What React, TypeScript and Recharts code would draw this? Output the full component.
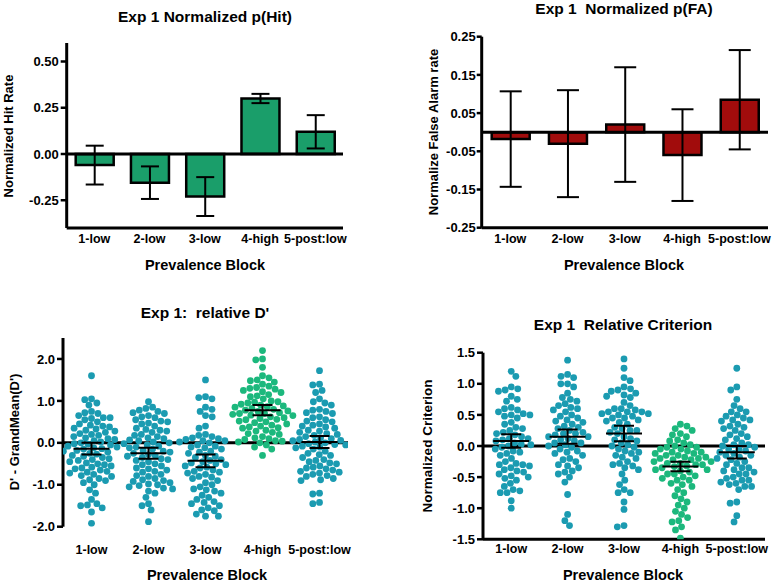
import React from "react"
import { ComposedChart, Bar, ErrorBar, XAxis, YAxis, ReferenceLine, ScatterChart, Scatter } from "recharts"

const font = "'Liberation Sans', Arial, Helvetica, sans-serif"
const teal = "#1b9bb1"
const green = "#1cb87d"
const barGreen = "#1a9e6a"
const barRed = "#a10c0c"

const blocks = ["1-low", "2-low", "3-low", "4-high", "5-post:low"]

// top panels: bar means and error half-widths
const hitMean = [-0.06, -0.155, -0.23, 0.3, 0.12]
const hitErr = [0.105, 0.088, 0.105, 0.025, 0.09]
const faMean = [-0.018, -0.03, 0.02, -0.06, 0.085]
const faErr = [0.125, 0.14, 0.15, 0.12, 0.13]

// relative D' per subject, one list per block
const dLow1 = [1.6, 1.05, 1.03, 0.95, 0.9, 0.75, 0.72, 0.7, 0.65, 0.6, 0.6, 0.58, 0.55, 0.5, 0.45, 0.42, 0.4, 0.38, 0.35, 0.33, 0.3, 0.28, 0.25, 0.22, 0.2, 0.18, 0.15, 0.12, 0.1, 0.08, 0.05, 0.02, 0.0, -0.02, -0.03, -0.05, -0.08, -0.1, -0.12, -0.14, -0.15, -0.18, -0.2, -0.22, -0.25, -0.27, -0.3, -0.32, -0.35, -0.38, -0.4, -0.42, -0.45, -0.48, -0.5, -0.52, -0.55, -0.58, -0.6, -0.62, -0.65, -0.68, -0.7, -0.72, -0.75, -0.78, -0.8, -0.85, -0.88, -0.9, -0.95, -1.0, -1.12, -1.2, -1.35, -1.45, -1.48, -1.5, -1.55, -1.65, -1.92]
const dLow2 = [0.98, 0.85, 0.82, 0.78, 0.75, 0.72, 0.7, 0.65, 0.62, 0.6, 0.55, 0.52, 0.5, 0.47, 0.45, 0.4, 0.35, 0.32, 0.3, 0.28, 0.25, 0.2, 0.18, 0.15, 0.12, 0.1, 0.07, 0.05, 0.02, 0.0, -0.02, -0.05, -0.08, -0.1, -0.12, -0.15, -0.18, -0.2, -0.22, -0.25, -0.28, -0.3, -0.32, -0.35, -0.38, -0.4, -0.42, -0.45, -0.5, -0.52, -0.55, -0.6, -0.62, -0.65, -0.68, -0.7, -0.75, -0.78, -0.8, -0.85, -0.88, -0.9, -0.92, -0.95, -0.98, -1.0, -1.02, -1.05, -1.08, -1.1, -1.15, -1.2, -1.3, -1.45, -1.5, -1.6, -1.88]
const dLow3 = [1.5, 1.1, 1.08, 1.05, 0.85, 0.8, 0.75, 0.65, 0.62, 0.4, 0.35, 0.2, 0.18, 0.15, 0.12, 0.1, 0.08, 0.05, 0.05, 0.02, 0.0, -0.05, -0.08, -0.1, -0.12, -0.15, -0.2, -0.22, -0.25, -0.3, -0.32, -0.35, -0.4, -0.42, -0.45, -0.48, -0.5, -0.52, -0.55, -0.58, -0.6, -0.65, -0.68, -0.7, -0.72, -0.75, -0.8, -0.82, -0.85, -0.9, -0.95, -1.0, -1.05, -1.1, -1.12, -1.15, -1.2, -1.25, -1.3, -1.35, -1.4, -1.42, -1.45, -1.5, -1.55, -1.6, -1.62, -1.7, -1.75, -1.75]
const dHigh4 = [2.2, 2.0, 1.98, 1.8, 1.6, 1.55, 1.5, 1.48, 1.45, 1.4, 1.35, 1.32, 1.3, 1.28, 1.25, 1.22, 1.2, 1.15, 1.12, 1.1, 1.05, 1.0, 0.98, 0.97, 0.95, 0.92, 0.9, 0.88, 0.86, 0.85, 0.82, 0.8, 0.78, 0.76, 0.75, 0.72, 0.7, 0.7, 0.68, 0.66, 0.65, 0.62, 0.6, 0.58, 0.56, 0.55, 0.52, 0.5, 0.48, 0.45, 0.42, 0.4, 0.38, 0.36, 0.35, 0.3, 0.28, 0.25, 0.22, 0.2, 0.15, 0.12, 0.1, 0.08, 0.05, 0.04, 0.02, 0.0, -0.05, -0.1, -0.15, -0.3]
const dPost5 = [1.72, 1.4, 1.38, 1.25, 1.2, 1.05, 0.98, 0.95, 0.9, 0.8, 0.78, 0.75, 0.72, 0.7, 0.62, 0.6, 0.55, 0.52, 0.5, 0.45, 0.42, 0.4, 0.38, 0.35, 0.3, 0.28, 0.25, 0.22, 0.2, 0.18, 0.15, 0.12, 0.1, 0.08, 0.06, 0.05, 0.02, 0.0, -0.02, -0.04, -0.05, -0.08, -0.1, -0.12, -0.15, -0.2, -0.25, -0.28, -0.3, -0.35, -0.4, -0.42, -0.45, -0.48, -0.5, -0.55, -0.58, -0.6, -0.62, -0.65, -0.68, -0.7, -0.72, -0.75, -0.78, -0.8, -0.85, -0.88, -0.9, -1.2, -1.22, -1.42, -1.45]
const dMean = [-0.14, -0.25, -0.43, 0.78, 0.02]
const dCI = [0.14, 0.13, 0.15, 0.12, 0.145]

// relative criterion per subject
const cLow1 = [1.2, 1.12, 0.95, 0.92, 0.9, 0.88, 0.8, 0.75, 0.72, 0.62, 0.6, 0.58, 0.55, 0.52, 0.5, 0.5, 0.48, 0.45, 0.38, 0.35, 0.3, 0.28, 0.25, 0.22, 0.2, 0.18, 0.15, 0.12, 0.12, 0.1, 0.08, 0.05, 0.03, 0.02, 0.0, -0.02, -0.05, -0.08, -0.1, -0.12, -0.15, -0.2, -0.25, -0.28, -0.3, -0.3, -0.32, -0.35, -0.38, -0.4, -0.42, -0.45, -0.48, -0.5, -0.52, -0.55, -0.6, -0.65, -0.7, -0.72, -0.75, -0.75, -0.88, -1.0]
const cLow2 = [1.38, 1.15, 1.12, 1.1, 1.0, 1.0, 0.95, 0.85, 0.78, 0.75, 0.72, 0.68, 0.65, 0.62, 0.6, 0.58, 0.55, 0.5, 0.48, 0.45, 0.42, 0.4, 0.38, 0.35, 0.32, 0.3, 0.28, 0.25, 0.22, 0.2, 0.2, 0.18, 0.15, 0.15, 0.12, 0.1, 0.08, 0.05, 0.05, 0.02, 0.0, -0.02, -0.05, -0.08, -0.1, -0.12, -0.15, -0.2, -0.22, -0.25, -0.3, -0.32, -0.35, -0.4, -0.42, -0.45, -0.5, -0.58, -0.78, -1.1, -1.2, -1.28]
const cLow3 = [1.4, 1.25, 1.1, 1.05, 0.95, 0.92, 0.9, 0.88, 0.85, 0.82, 0.8, 0.78, 0.7, 0.65, 0.6, 0.6, 0.58, 0.55, 0.55, 0.55, 0.52, 0.52, 0.5, 0.48, 0.45, 0.45, 0.42, 0.4, 0.38, 0.35, 0.3, 0.28, 0.25, 0.25, 0.22, 0.2, 0.15, 0.12, 0.1, 0.08, 0.05, 0.02, 0.0, -0.02, -0.05, -0.08, -0.1, -0.12, -0.15, -0.18, -0.2, -0.25, -0.28, -0.3, -0.32, -0.35, -0.38, -0.45, -0.55, -0.62, -0.7, -0.75, -0.75, -0.9, -1.02, -1.28, -1.3]
const cHigh4 = [0.35, 0.32, 0.28, 0.25, 0.2, 0.18, 0.15, 0.1, 0.08, 0.05, 0.02, 0.0, -0.02, -0.02, -0.05, -0.05, -0.08, -0.1, -0.1, -0.12, -0.12, -0.15, -0.15, -0.18, -0.18, -0.2, -0.2, -0.22, -0.22, -0.25, -0.25, -0.28, -0.28, -0.3, -0.3, -0.32, -0.33, -0.35, -0.38, -0.38, -0.4, -0.42, -0.45, -0.45, -0.48, -0.5, -0.52, -0.55, -0.55, -0.6, -0.62, -0.65, -0.7, -0.75, -0.8, -0.85, -0.9, -0.95, -1.0, -1.05, -1.1, -1.15, -1.2, -1.22, -1.3, -1.35, -1.48]
const cPost5 = [1.25, 0.95, 0.9, 0.75, 0.65, 0.6, 0.55, 0.55, 0.5, 0.48, 0.45, 0.42, 0.42, 0.4, 0.35, 0.32, 0.3, 0.28, 0.25, 0.2, 0.18, 0.15, 0.12, 0.1, 0.05, 0.02, 0.02, 0.0, -0.02, -0.05, -0.05, -0.08, -0.1, -0.12, -0.15, -0.15, -0.18, -0.2, -0.22, -0.25, -0.28, -0.3, -0.35, -0.35, -0.38, -0.4, -0.42, -0.45, -0.45, -0.5, -0.52, -0.55, -0.55, -0.58, -0.6, -0.62, -0.65, -0.65, -0.7, -0.9, -0.92, -1.12, -1.22]
const cMean = [0.08, 0.15, 0.2, -0.33, -0.1]
const cCI = [0.11, 0.115, 0.125, 0.075, 0.1]

const hitTicks = [-0.25, 0, 0.25, 0.5]
const faTicks = [-0.25, -0.15, -0.05, 0.05, 0.15, 0.25]
const dTicks = [-2, -1, 0, 1, 2]
const cTicks = [-1.5, -1, -0.5, 0, 0.5, 1, 1.5]

const DOT = 6.8

// greedy beeswarm: horizontal offset (data units) for each value
function swarm(values: number[], group: number, pxPerY: number, pxPerX: number) {
  const sorted = [...values].sort((a, b) => b - a)
  const placed: { x: number; y: number }[] = []
  const out: { x: number; y: number }[] = []
  let flip = 1
  for (const v of sorted) {
    const y = v * pxPerY
    const near = placed.filter((p) => Math.abs(p.y - y) < DOT)
    const cands = [0]
    for (const p of near) {
      const dx = Math.sqrt(DOT * DOT - (p.y - y) ** 2)
      cands.push(p.x - dx, p.x + dx)
    }
    cands.sort((a, b) => Math.abs(a) - Math.abs(b) || (a - b) * flip)
    let x = 0
    for (const c of cands) {
      if (near.every((p) => (p.x - c) ** 2 + (p.y - y) ** 2 >= DOT * DOT - 0.01)) {
        x = c
        break
      }
    }
    flip = -flip
    placed.push({ x, y })
    out.push({ x: group + x / pxPerX, y: v })
  }
  return out
}

const axisStroke = { stroke: "#000", strokeWidth: 3 }
const tickLineStroke = { stroke: "#000", strokeWidth: 2.5 }
const yTickStyle = { fontSize: 13, fontWeight: 700, fill: "#000", fontFamily: font }
const xTickStyle = { fontSize: 12.5, fontWeight: 700, fill: "#000", fontFamily: font }

function Text({ x, y, size, rotate, children }: any) {
  return (
    <div
      style={{
        position: "absolute",
        left: x,
        top: y,
        transform: `translate(-50%, -50%)${rotate ? " rotate(-90deg)" : ""}`,
        fontFamily: font,
        fontWeight: 700,
        fontSize: size,
        whiteSpace: "pre",
        color: "#000",
        lineHeight: 1,
      }}
    >
      {children}
    </div>
  )
}

function Dot(color: string) {
  return (p: any) => <circle cx={p.cx} cy={p.cy} r={3.4} fill={color} />
}

const noMark = () => <g />

function BarPanel({ mean, err, color, ticks, domain, margin, tickSize, tickMargin, capWidth }: any) {
  const data = blocks.map((b, i) => ({ block: b, value: mean[i], err: err[i] }))
  return (
    <ComposedChart width={margin.w} height={292} data={data} margin={margin.m}>
      <XAxis dataKey="block" height={20} axisLine={axisStroke} tickLine={false} tickSize={0} tickMargin={6} tick={xTickStyle} interval={0} />
      <YAxis
        width={60}
        type="number"
        domain={domain}
        ticks={ticks}
        allowDataOverflow
        axisLine={axisStroke}
        tickLine={tickLineStroke}
        tickSize={tickSize}
        tickMargin={tickMargin}
        tick={yTickStyle}
        tickFormatter={(v: number) => v.toFixed(2)}
      />
      <Bar dataKey="value" fill={color} stroke="#000" strokeWidth={2.5} barSize={38} isAnimationActive={false}>
        <ErrorBar dataKey="err" width={capWidth} stroke="#000" strokeWidth={2} direction="y" />
      </Bar>
      <ReferenceLine y={0} stroke="#000" strokeWidth={3} />
    </ComposedChart>
  )
}

function SwarmPanel({ groups, mean, ci, ticks, domain, margin, plotH, plotW, xMargin, showXLine }: any) {
  const pxPerY = plotH / (domain[1] - domain[0])
  const pxPerX = plotW / 5
  const meanHalf = 18 / pxPerX
  const capHalf = 10 / pxPerX
  const tealPts: any[] = []
  const greenPts: any[] = []
  groups.forEach((vals: number[], i: number) => {
    const pts = swarm(vals, i + 1, pxPerY, pxPerX)
    if (i === 3) greenPts.push(...pts)
    else tealPts.push(...pts)
  })
  // mean line, CI stem and caps as two-point segments
  const segments: { x: number; y: number }[][] = []
  blocks.forEach((b, i) => {
    const x = i + 1
    const lo = mean[i] - ci[i]
    const hi = mean[i] + ci[i]
    segments.push([{ x: x - meanHalf, y: mean[i] }, { x: x + meanHalf, y: mean[i] }])
    segments.push([{ x, y: lo }, { x, y: hi }])
    segments.push([{ x: x - capHalf, y: hi }, { x: x + capHalf, y: hi }])
    segments.push([{ x: x - capHalf, y: lo }, { x: x + capHalf, y: lo }])
  })
  return (
    <ScatterChart width={margin.w} height={292} margin={margin.m}>
      <XAxis
        type="number"
        dataKey="x"
        domain={[0.5, 5.5]}
        ticks={[1, 2, 3, 4, 5]}
        allowDataOverflow
        height={20}
        axisLine={showXLine ? axisStroke : false}
        tickLine={false}
        tickSize={0}
        tickMargin={xMargin}
        tick={xTickStyle}
        interval={0}
        tickFormatter={(v: number) => blocks[v - 1]}
      />
      <YAxis
        width={60}
        type="number"
        dataKey="y"
        domain={domain}
        ticks={ticks}
        allowDataOverflow
        axisLine={axisStroke}
        tickLine={tickLineStroke}
        tickSize={6}
        tickMargin={2}
        tick={yTickStyle}
        tickFormatter={(v: number) => v.toFixed(1)}
      />
      <ReferenceLine y={0} stroke="#000" strokeWidth={3} />
      <Scatter data={tealPts} shape={Dot(teal)} isAnimationActive={false} />
      <Scatter data={greenPts} shape={Dot(green)} isAnimationActive={false} />
      {segments.map((seg, k) => (
        <Scatter key={k} data={seg} shape={noMark} line={{ stroke: "#000", strokeWidth: 2 }} isAnimationActive={false} />
      ))}
    </ScatterChart>
  )
}

export default function App() {
  return (
    <div style={{ position: "absolute", left: 0, top: 0, width: 775, height: 584, background: "#fff", overflow: "hidden" }}>
      <div style={{ position: "absolute", left: 0, top: 0 }}>
        <BarPanel
          mean={hitMean}
          err={hitErr}
          color={barGreen}
          ticks={hitTicks}
          domain={[-0.4, 0.6]}
          tickSize={6}
          tickMargin={2}
          capWidth={9}
          margin={{ w: 390, m: { top: 43, right: 47, bottom: 44, left: 6.7 } }}
        />
      </div>
      <div style={{ position: "absolute", left: 390, top: 0 }}>
        <BarPanel
          mean={faMean}
          err={faErr}
          color={barRed}
          ticks={faTicks}
          domain={[-0.25, 0.25]}
          tickSize={5}
          tickMargin={1}
          capWidth={11}
          margin={{ w: 385, m: { top: 36.7, right: 7, bottom: 44.3, left: 31.7 } }}
        />
      </div>
      <div style={{ position: "absolute", left: 0, top: 292 }}>
        <SwarmPanel
          groups={[dLow1, dLow2, dLow3, dHigh4, dPost5]}
          mean={dMean}
          ci={dCI}
          ticks={dTicks}
          domain={[-2, 2.5]}
          plotH={188.7}
          plotW={285}
          xMargin={18}
          showXLine={false}
          margin={{ w: 390, m: { top: 46, right: 42, bottom: 37.3, left: 3 } }}
        />
      </div>
      <div style={{ position: "absolute", left: 390, top: 292 }}>
        <SwarmPanel
          groups={[cLow1, cLow2, cLow3, cHigh4, cPost5]}
          mean={cMean}
          ci={cCI}
          ticks={cTicks}
          domain={[-1.5, 1.5]}
          plotH={186.6}
          plotW={282}
          xMargin={5}
          showXLine={true}
          margin={{ w: 385, m: { top: 60.7, right: 10, bottom: 24.7, left: 33 } }}
        />
      </div>

      <Text x={205} y={17} size={15.5}>Exp 1 Normalized p(Hit)</Text>
      <Text x={8} y={136} size={13} rotate>Normalized Hit Rate</Text>
      <Text x={205} y={265} size={14.5}>Prevalence Block</Text>

      <Text x={624} y={9} size={15.5}>{"Exp 1  Normalized p(FA)"}</Text>
      <Text x={433} y={132} size={13} rotate>Normalize False Alarm rate</Text>
      <Text x={624} y={265} size={14.5}>Prevalence Block</Text>

      <Text x={205} y={313} size={15.5}>{"Exp 1:  relative D'"}</Text>
      <Text x={14} y={432} size={13} rotate>{"D' - GrandMean(D')"}</Text>
      <Text x={207} y={575} size={14.5}>Prevalence Block</Text>

      <Text x={623} y={325} size={15.5}>{"Exp 1  Relative Criterion"}</Text>
      <Text x={428} y={446} size={13.5} rotate>Normalized Criterion</Text>
      <Text x={623} y={575} size={14.5}>Prevalence Block</Text>
    </div>
  )
}
